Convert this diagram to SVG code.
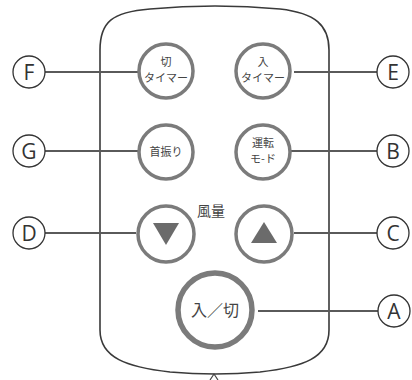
<svg xmlns="http://www.w3.org/2000/svg" width="412" height="380" viewBox="0 0 412 380">
  <style>
    .body { fill: #ffffff; stroke: #3a3a3a; stroke-width: 1.6; }
    .btn { fill: #ffffff; stroke: #7b7b7b; stroke-width: 3.5; }
    .btn-big { fill: #ffffff; stroke: #7b7b7b; stroke-width: 5.5; }
    .jp { font-family: "Noto Sans CJK JP", "Noto Sans", sans-serif; fill: #444; text-anchor: middle; }
    .tag { fill: #ffffff; stroke: #333; stroke-width: 1.3; }
    .tag-text { font-family: "Open Sans", "Liberation Sans", sans-serif; font-size: 21px; fill: #333; text-anchor: middle; }
    .lead { stroke: #5a5a5a; stroke-width: 2; fill: none; }
    .arrow { fill: #6b6b6b; }
  </style>
  <rect width="412" height="380" fill="#ffffff"/>

  <!-- remote control body -->
  <g id="body">
    <path class="body" d="M 100,50 C 100,22 112,12 150,9 Q 215,3 280,9 C 315,13 329,25 329,50 L 329,330 C 329,358 303,367 260,372 Q 215,376 170,372 C 127,367 100,358 100,330 Z"/>
    <path d="M 210,380 L 214,374 L 218,380" fill="none" stroke="#444" stroke-width="1.2"/>
  </g>

  <!-- leader lines from the letter tags to the buttons -->
  <g id="connectors">
    <line class="lead" x1="45" y1="72" x2="138" y2="72"/>
    <line class="lead" x1="294" y1="72" x2="377" y2="72"/>
    <line class="lead" x1="45" y1="151" x2="138" y2="151"/>
    <line class="lead" x1="291" y1="151" x2="377" y2="151"/>
    <line class="lead" x1="45" y1="233" x2="136" y2="233"/>
    <line class="lead" x1="294" y1="233" x2="377" y2="233"/>
    <line class="lead" x1="258" y1="311" x2="378" y2="311"/>
  </g>

  <g id="btn-off-timer">
    <circle class="btn" cx="166" cy="71" r="27"/>
    <text class="jp" x="166" y="66" font-size="11">切</text>
    <text class="jp" x="166" y="82" font-size="11">タイマー</text>
  </g>

  <g id="btn-on-timer">
    <circle class="btn" cx="263" cy="71" r="27"/>
    <text class="jp" x="263" y="66" font-size="11">入</text>
    <text class="jp" x="263" y="82" font-size="11">タイマー</text>
  </g>

  <g id="btn-swing">
    <circle class="btn" cx="166" cy="152" r="27"/>
    <text class="jp" x="166" y="156" font-size="11">首振り</text>
  </g>

  <g id="btn-mode">
    <circle class="btn" cx="263" cy="152" r="27"/>
    <text class="jp" x="263" y="147" font-size="11">運転</text>
    <text class="jp" x="263" y="163" font-size="11">モ-ド</text>
  </g>

  <g id="label-fan">
    <text class="jp" x="211" y="216" font-size="14">風量</text>
  </g>

  <g id="btn-down">
    <circle class="btn" cx="166" cy="234" r="28"/>
    <polygon class="arrow" points="153,223 179,223 166,245"/>
  </g>

  <g id="btn-up">
    <circle class="btn" cx="264" cy="234" r="28"/>
    <polygon class="arrow" points="251,243 277,243 264,222"/>
  </g>

  <g id="btn-power">
    <circle class="btn-big" cx="215" cy="310" r="37"/>
    <text class="jp" x="215" y="316" font-size="16">入／切</text>
  </g>

  <g id="tag-F">
    <circle class="tag" cx="29" cy="72" r="16"/>
    <text class="tag-text" x="29" y="80">F</text>
  </g>
  <g id="tag-G">
    <circle class="tag" cx="29" cy="151" r="16"/>
    <text class="tag-text" x="29" y="159">G</text>
  </g>
  <g id="tag-D">
    <circle class="tag" cx="29" cy="233" r="16"/>
    <text class="tag-text" x="29" y="241">D</text>
  </g>
  <g id="tag-E">
    <circle class="tag" cx="393" cy="72" r="16"/>
    <text class="tag-text" x="393" y="80">E</text>
  </g>
  <g id="tag-B">
    <circle class="tag" cx="393" cy="151" r="16"/>
    <text class="tag-text" x="393" y="159">B</text>
  </g>
  <g id="tag-C">
    <circle class="tag" cx="393" cy="233" r="16"/>
    <text class="tag-text" x="393" y="241">C</text>
  </g>
  <g id="tag-A">
    <circle class="tag" cx="394" cy="311" r="16"/>
    <text class="tag-text" x="394" y="319">A</text>
  </g>
</svg>
